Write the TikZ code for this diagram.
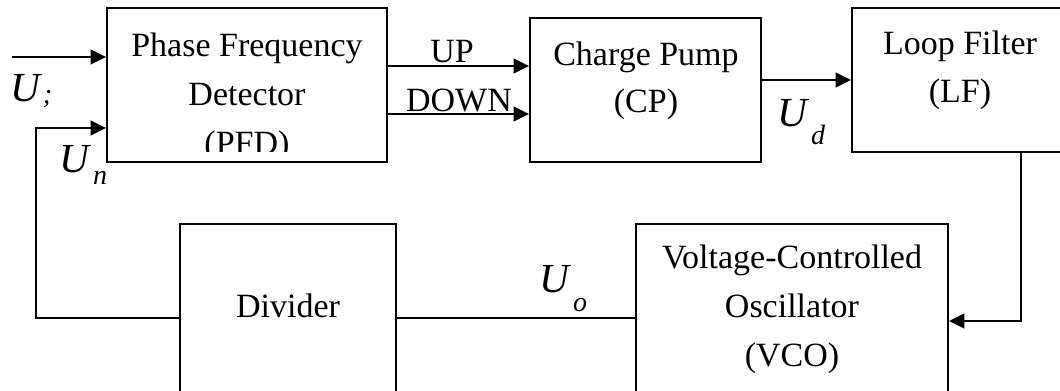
\documentclass[tikz,border=0pt]{standalone}
\usepackage{fontspec}
\setmainfont{Liberation Serif}
\usetikzlibrary{arrows.meta,fit}
\newcommand\sigU[4]{{\fontsize{31pt}{31pt}\selectfont\itshape U}\hspace{#1}\raisebox{#2}{\fontsize{#4}{#4}\selectfont\itshape #3}}
\begin{document}
\begin{tikzpicture}[x=0.75pt,y=-0.75pt,
  wire/.style={line width=1.4pt},
  arr/.style={wire,-{Triangle[length=11.5pt,width=11pt]}},
  blk/.style={draw,line width=1.4pt,rectangle,inner sep=0pt},
  lbl/.style={font=\fontsize{25.5pt}{36.75pt}\selectfont,align=center,inner sep=0pt,anchor=base},
  sig/.style={inner sep=0pt,anchor=base west}]
\useasboundingbox (0,0) rectangle (1060,391);
\clip (0,0) rectangle (1060,391);
% blocks
\node[blk,fit={(107,8) (387,162)}] (pfd) {};
\node[blk,fit={(530,18) (761,162)}] (cp) {};
\node[blk,fit={(852,8) (1080,152)}] (lf) {};
\node[blk,fit={(180,224) (396,410)}] (div) {};
\node[blk,fit={(636,224) (948,410)}] (vco) {};
% block texts (base anchor = baseline of the last line)
\begin{scope}
\clip (107,8) rectangle (387,152);
\node[lbl] (pfdt) at (247,155) {Phase Frequency\\Detector\\(PFD)};
\end{scope}
\node[lbl,font=\fontsize{25.5pt}{35.25pt}\selectfont] (cpt) at (646,113) {Charge Pump\\(CP)};
\node[lbl,font=\fontsize{25.5pt}{36pt}\selectfont] (lft) at (960,103) {Loop Filter\\(LF)};
\node[lbl] (divt) at (288,318) {Divider};
\node[lbl,font=\fontsize{25.5pt}{37pt}\selectfont] (vcot) at (792,367) {Voltage-Controlled\\Oscillator\\(VCO)};
% helper coordinates
\coordinate (inx) at (12,57);
\coordinate (upy) at (0,66);
\coordinate (dny) at (0,114);
\coordinate (cpy) at (0,80);
\coordinate (fb) at (36,128);
\coordinate (loopy) at (0,318);
\coordinate (lfx) at (1021,0);
\coordinate (vcoy) at (0,321);
% connectors
\draw[arr] (inx) -- (inx -| pfd.west);
\draw[arr] (div.west |- loopy) -| (fb) -- (fb -| pfd.west);
\draw[arr] (pfd.east |- upy) -- (cp.west |- upy);
\draw[arr] (pfd.east |- dny) -- (cp.west |- dny);
\draw[arr] (cp.east |- cpy) -- (lf.west |- cpy);
\draw[arr] (lf.south -| lfx) |- (vco.east |- vcoy);
\draw[wire] (vco.west |- loopy) -- (div.east |- loopy);
% signal labels
\node[lbl] (up) at (452,63) {UP};
\node[lbl] (down) at (459,112) {DOWN};
\node[sig] (ui) at (10,102) {\sigU{2pt}{-1.5pt}{;}{21pt}};
\node[sig] (un) at (59,173) {\sigU{3pt}{-9pt}{n}{21pt}};
\node[sig] (uo) at (539,293) {\sigU{3pt}{-14pt}{o}{21pt}};
\node[sig] (ud) at (777,127) {\sigU{3pt}{-13.5pt}{d}{21pt}};
\end{tikzpicture}
\end{document}
